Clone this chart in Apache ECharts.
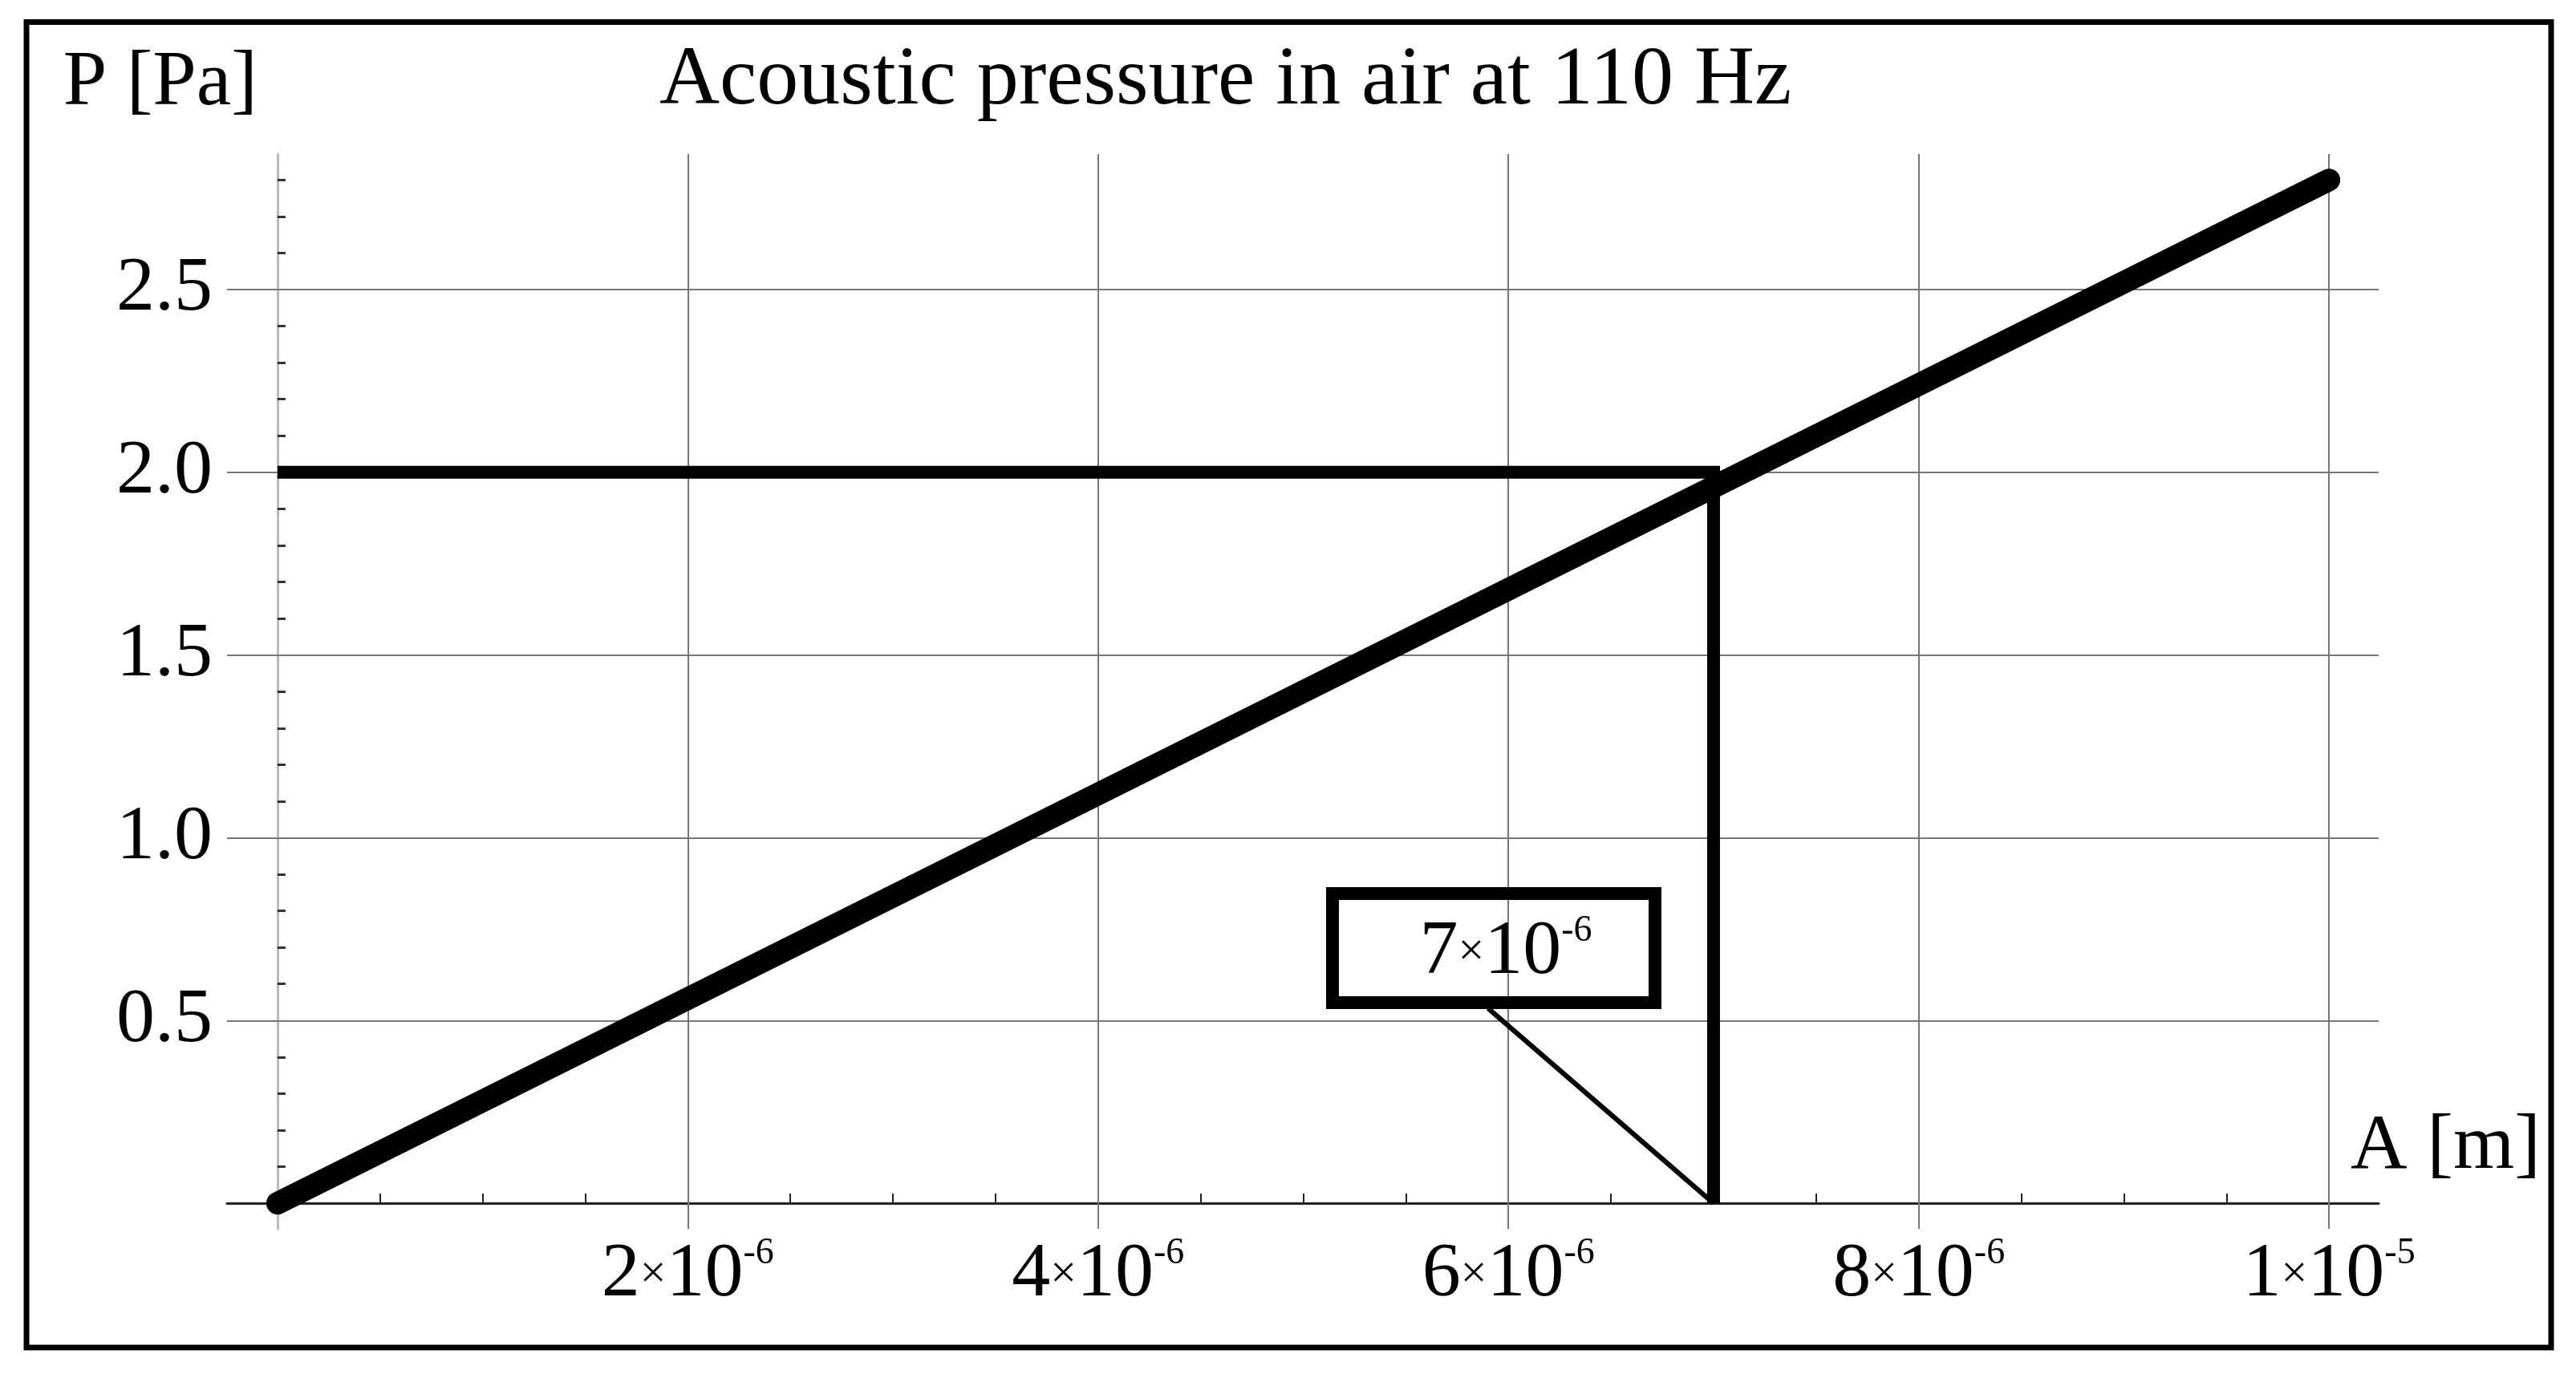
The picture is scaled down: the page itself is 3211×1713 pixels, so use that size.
<!DOCTYPE html>
<html>
<head>
<meta charset="utf-8">
<script src="https://cdn.jsdelivr.net/npm/echarts@6/dist/echarts.min.js"></script>
<style>
html, body { margin: 0; padding: 0; background: #fff; }
#chart { width: 3211px; height: 1713px; }
</style>
</head>
<body>
<div id="chart"></div>
<script>
// ---------------- data ----------------
const chartTitle = 'Acoustic pressure in air at 110 Hz';
const xName = 'A [m]';
const yName = 'P [Pa]';

// acoustic pressure P as a function of amplitude A (straight line)
const amplitude = [0, 1e-5];
const pressure = [0, 2.8];

// read-off construction: P = 2 Pa  ->  A = 7e-6 m
const readPressure = 2.0;
const readAmplitude = 7e-6;

// axis ranges
const xRange = [-0.246e-6, 10.242e-6];
const yRange = [-0.07, 2.871];

// ticks
const xMajorTicks = [2e-6, 4e-6, 6e-6, 8e-6, 1e-5];
const xMinorTicks = [0.5e-6, 1e-6, 1.5e-6, 2.5e-6, 3e-6, 3.5e-6, 4.5e-6, 5e-6, 5.5e-6,
                     6.5e-6, 7e-6, 7.5e-6, 8.5e-6, 9e-6, 9.5e-6];
const yMajorTicks = [0.5, 1.0, 1.5, 2.0, 2.5];
const yMinorTicks = [0.1, 0.2, 0.3, 0.4, 0.6, 0.7, 0.8, 0.9, 1.1, 1.2, 1.3, 1.4,
                     1.6, 1.7, 1.8, 1.9, 2.1, 2.2, 2.3, 2.4, 2.6, 2.7, 2.8];

// ---------------- helpers ----------------
const FONT = 'Liberation Serif';

function sciParts(v) {
  const e = Math.floor(Math.log10(Math.abs(v)) + 1e-9);
  const m = Math.round(v / Math.pow(10, e) * 1000) / 1000;
  return [m, e];
}
function sciRich(v) {
  const p = sciParts(v);
  return '{m|' + p[0] + '}{x|×}{m|10}{e|' + p[1] + '}';
}
const tokenBase = { fontFamily: FONT, color: '#000', opacity: 1 };
const sciRichStyles = {
  m: Object.assign({}, tokenBase, { fontSize: 96, lineHeight: 100 }),
  x: Object.assign({}, tokenBase, { fontSize: 58, lineHeight: 100 }),
  e: Object.assign({}, tokenBase, { fontSize: 46, lineHeight: 46, verticalAlign: 'top' })
};

const gridLineStyle = { color: '#777', width: 2, type: 'solid' };

const chart = echarts.init(document.getElementById('chart'), null, { renderer: 'canvas' });

const option = {
  backgroundColor: '#fff',
  animation: false,
  title: {
    text: chartTitle,
    left: 822,
    top: 50,
    padding: 0,
    textStyle: { fontFamily: FONT, fontSize: 104, fontWeight: 'normal', color: '#000' }
  },
  grid: { left: 283, right: 246, top: 192, bottom: 181, containLabel: false },
  xAxis: {
    type: 'value',
    min: xRange[0],
    max: xRange[1],
    name: xName,
    nameLocation: 'end',
    nameGap: -35,
    nameTextStyle: {
      fontFamily: FONT, fontSize: 98, color: '#000',
      align: 'left', verticalAlign: 'bottom', padding: [0, 0, 21, 0]
    },
    axisLine: { show: true, onZero: true, lineStyle: { color: '#222', width: 3 } },
    axisTick: { show: true, inside: true, length: 12, customValues: xMinorTicks,
                lineStyle: { color: '#222', width: 2 } },
    axisLabel: { show: true, customValues: xMajorTicks, margin: 8,
                 formatter: function (v) { return sciRich(v); }, rich: sciRichStyles },
    splitLine: { show: false },
    minorTick: { show: false }
  },
  yAxis: {
    type: 'value',
    min: yRange[0],
    max: yRange[1],
    name: yName,
    nameLocation: 'end',
    nameGap: 39,
    nameTextStyle: {
      fontFamily: FONT, fontSize: 98, color: '#000',
      align: 'right', verticalAlign: 'bottom', padding: [0, 25, 0, 0]
    },
    axisLine: { show: true, onZero: true, lineStyle: { color: '#bbb', width: 3 } },
    axisTick: { show: true, inside: true, length: 10, customValues: yMinorTicks,
                lineStyle: { color: '#333', width: 3 } },
    axisLabel: { show: true, customValues: yMajorTicks, margin: 18,
                 formatter: function (v) { return v.toFixed(1); },
                 fontFamily: FONT, fontSize: 96, color: '#000' },
    splitLine: { show: false },
    minorTick: { show: false }
  },
  series: [
    {
      id: 'grid',
      type: 'line',
      data: [],
      silent: true,
      z: 1,
      markLine: {
        z: 1,
        silent: true,
        animation: false,
        precision: 20,
        symbol: ['none', 'none'],
        label: { show: false },
        emphasis: { disabled: true },
        lineStyle: gridLineStyle,
        data: xMajorTicks.map(function (v) { return { xAxis: v }; })
          .concat(yMajorTicks.map(function (v) { return { yAxis: v }; }))
      }
    },
    {
      id: 'read-off',
      type: 'line',
      data: [[0, readPressure], [readAmplitude, readPressure], [readAmplitude, 0]],
      symbol: 'none',
      silent: true,
      z: 3,
      lineStyle: { color: '#000', width: 16, cap: 'butt', join: 'miter' }
    },
    {
      id: 'pressure',
      type: 'line',
      data: amplitude.map(function (a, i) { return [a, pressure[i]]; }),
      symbol: 'none',
      silent: true,
      z: 4,
      lineStyle: { color: '#000', width: 28, cap: 'round' }
    },
    {
      id: 'callout',
      type: 'scatter',
      data: [[readAmplitude, 0]],
      symbolSize: 2,
      silent: true,
      z: 6,
      itemStyle: { color: '#000', opacity: 1 },
      emphasis: { disabled: true },
      label: {
        show: true,
        position: 'top',
        distance: 0,
        formatter: function (p) { return sciRich(p.value[0]); },
        rich: sciRichStyles,
        color: '#000',
        opacity: 1,
        backgroundColor: 'transparent',
        borderColor: '#000',
        borderWidth: 8,
        width: 372,
        height: 96,
        padding: [24, 0, 16, 30],
        align: 'center',
        verticalAlign: 'middle'
      },
      labelLayout: { dx: -274, dy: -317 }
    }
  ],
  graphic: [
    {
      type: 'rect',
      silent: true,
      z: 100,
      shape: { x: 33, y: 27.5, width: 3147, height: 1652.5 },
      style: { fill: 'transparent', stroke: '#000', lineWidth: 7 }
    }
  ]
};

chart.setOption(option);

// pointer from the read-off point on the A axis to the bottom of the callout box
const anchorPx = chart.convertToPixel({ gridIndex: 0 }, [readAmplitude, 0]);
const tailPoint = chart.convertFromPixel({ gridIndex: 0 }, [anchorPx[0] - 281, anchorPx[1] - 243]);
chart.setOption({
  series: [{
    id: 'pointer',
    type: 'line',
    data: [[readAmplitude, 0], tailPoint],
    symbol: 'none',
    silent: true,
    z: 5,
    lineStyle: { color: '#000', width: 6, cap: 'butt' }
  }]
});
</script>
</body>
</html>
